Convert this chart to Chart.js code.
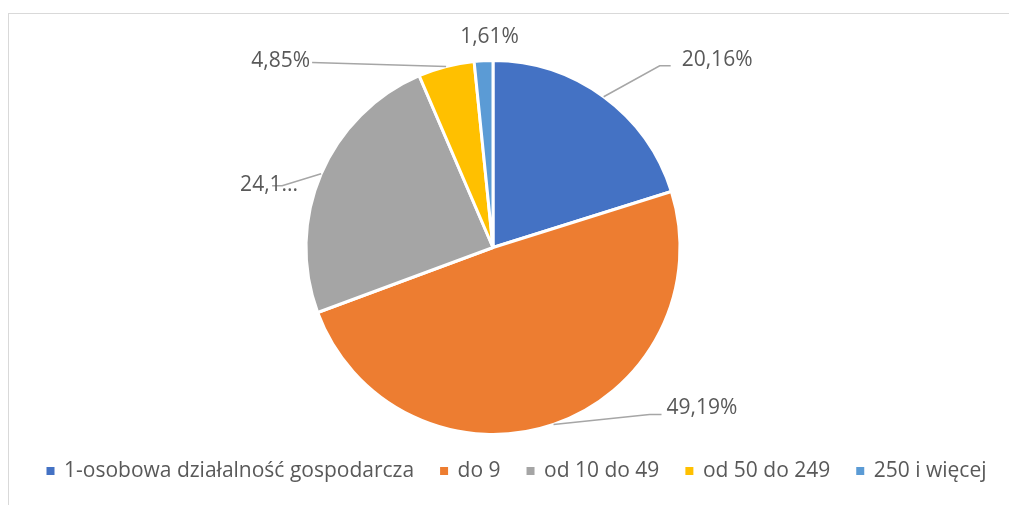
<!DOCTYPE html>
<html lang="pl">
<head>
<meta charset="utf-8">
<title>Struktura przedsiębiorstw</title>
<script src="https://cdn.jsdelivr.net/npm/chart.js@4/dist/chart.umd.min.js"></script>
<style>
    html, body { margin: 0; padding: 0; background: #fff; }
    .wrap { position: relative; width: 1009px; height: 505px; overflow: hidden; }
    .frame {
        position: absolute; left: 8px; top: 13px; width: 1100px; height: 600px;
        border-left: 1px solid #d9d9d9; border-top: 1px solid #d9d9d9;
    }
    /* płótno szersze od okna, żeby legenda zmieściła się w jednym wierszu */
    canvas { position: absolute; left: 0; top: 0; }
</style>
</head>
<body>
<div class="wrap">
    <div class="frame"></div>
    <canvas id="pieChart" width="1034" height="505"></canvas>
</div>
<script>
// Dane
const categories = ['1-osobowa działalność gospodarcza', 'do 9', 'od 10 do 49', 'od 50 do 249', '250 i więcej'];
const shares = [20.16, 49.19, 24.19, 4.85, 1.61];
const sliceColors = ['#4472C4', '#ED7D31', '#A5A5A5', '#FFC000', '#5B9BD5'];

const FONT = '"Open Sans", "Noto Sans", sans-serif';
const TEXT_COLOR = '#595959';
const LABEL_SIZE = 21;

// Położenie etykiet względem środka łuku na krawędzi (linia odniesienia + tekst)
const labelSpots = [
    { line: [[56, -31], [67, -31]], text: [78, -37], align: 'left' },
    { line: [[96, -10], [108, -10]], text: [113, -16], align: 'left' },
    { line: [[-39, 12], [-49, 12]], text: [-23, 11], align: 'right', clip: 4 },
    { line: [[-134, -4]], text: [-136, -5], align: 'right' },
    { line: [], text: [6, -24], align: 'center' }
];

const fmt = v => v.toFixed(2).replace('.', ',') + '%';

// Koło przesunięte lekko w lewo względem legendy (jak w Excelu)
const shiftPie = {
    id: 'shiftPie',
    afterLayout(chart) {
        chart.chartArea.right -= 48;
        chart.chartArea.width -= 48;
    }
};

// Etykiety z liniami odniesienia
const pieLabels = {
    id: 'pieLabels',
    afterDatasetsDraw(chart) {
        const ctx = chart.ctx;
        const meta = chart.getDatasetMeta(0);
        ctx.save();
        ctx.font = `${LABEL_SIZE}px ${FONT}`;
        ctx.textBaseline = 'middle';
        meta.data.forEach((arc, i) => {
            const { x, y, startAngle, endAngle, outerRadius } = arc.getProps(['x', 'y', 'startAngle', 'endAngle', 'outerRadius'], true);
            const mid = (startAngle + endAngle) / 2;
            const ex = x + Math.cos(mid) * outerRadius;
            const ey = y + Math.sin(mid) * outerRadius;
            const spot = labelSpots[i];

            if (spot.line.length) {
                ctx.strokeStyle = '#a6a6a6';
                ctx.lineWidth = 1.5;
                ctx.beginPath();
                ctx.moveTo(ex, ey);
                spot.line.forEach(p => ctx.lineTo(ex + p[0], ey + p[1]));
                ctx.stroke();
            }

            let txt = fmt(shares[i]);
            if (spot.clip) txt = txt.slice(0, spot.clip) + '...';
            ctx.fillStyle = TEXT_COLOR;
            ctx.textAlign = spot.align;
            ctx.fillText(txt, ex + spot.text[0], ey + spot.text[1]);
        });
        ctx.restore();
    }
};

const ctx = document.getElementById('pieChart').getContext('2d');
new Chart(ctx, {
    type: 'pie',
    data: {
        labels: categories,
        datasets: [{
            data: shares,
            backgroundColor: sliceColors,
            borderColor: '#ffffff',
            borderWidth: 3,
            radius: 187,
            clip: false
        }]
    },
    options: {
        responsive: false,
        animation: false,
        layout: { padding: { left: 0, right: 0, top: 61.5, bottom: 13.5 } },
        plugins: {
            legend: {
                position: 'bottom',
                labels: {
                    usePointStyle: true,
                    pointStyle: 'rect',
                    boxWidth: 6,
                    boxHeight: 8,
                    padding: 27,
                    color: TEXT_COLOR,
                    font: { family: FONT, size: LABEL_SIZE },
                    // bez białej obwódki kwadracików
                    generateLabels(chart) {
                        return Chart.overrides.pie.plugins.legend.labels.generateLabels(chart)
                            .map(item => ({ ...item, lineWidth: 0 }));
                    }
                }
            },
            tooltip: { enabled: false }
        }
    },
    plugins: [shiftPie, pieLabels]
});
</script>
</body>
</html>
